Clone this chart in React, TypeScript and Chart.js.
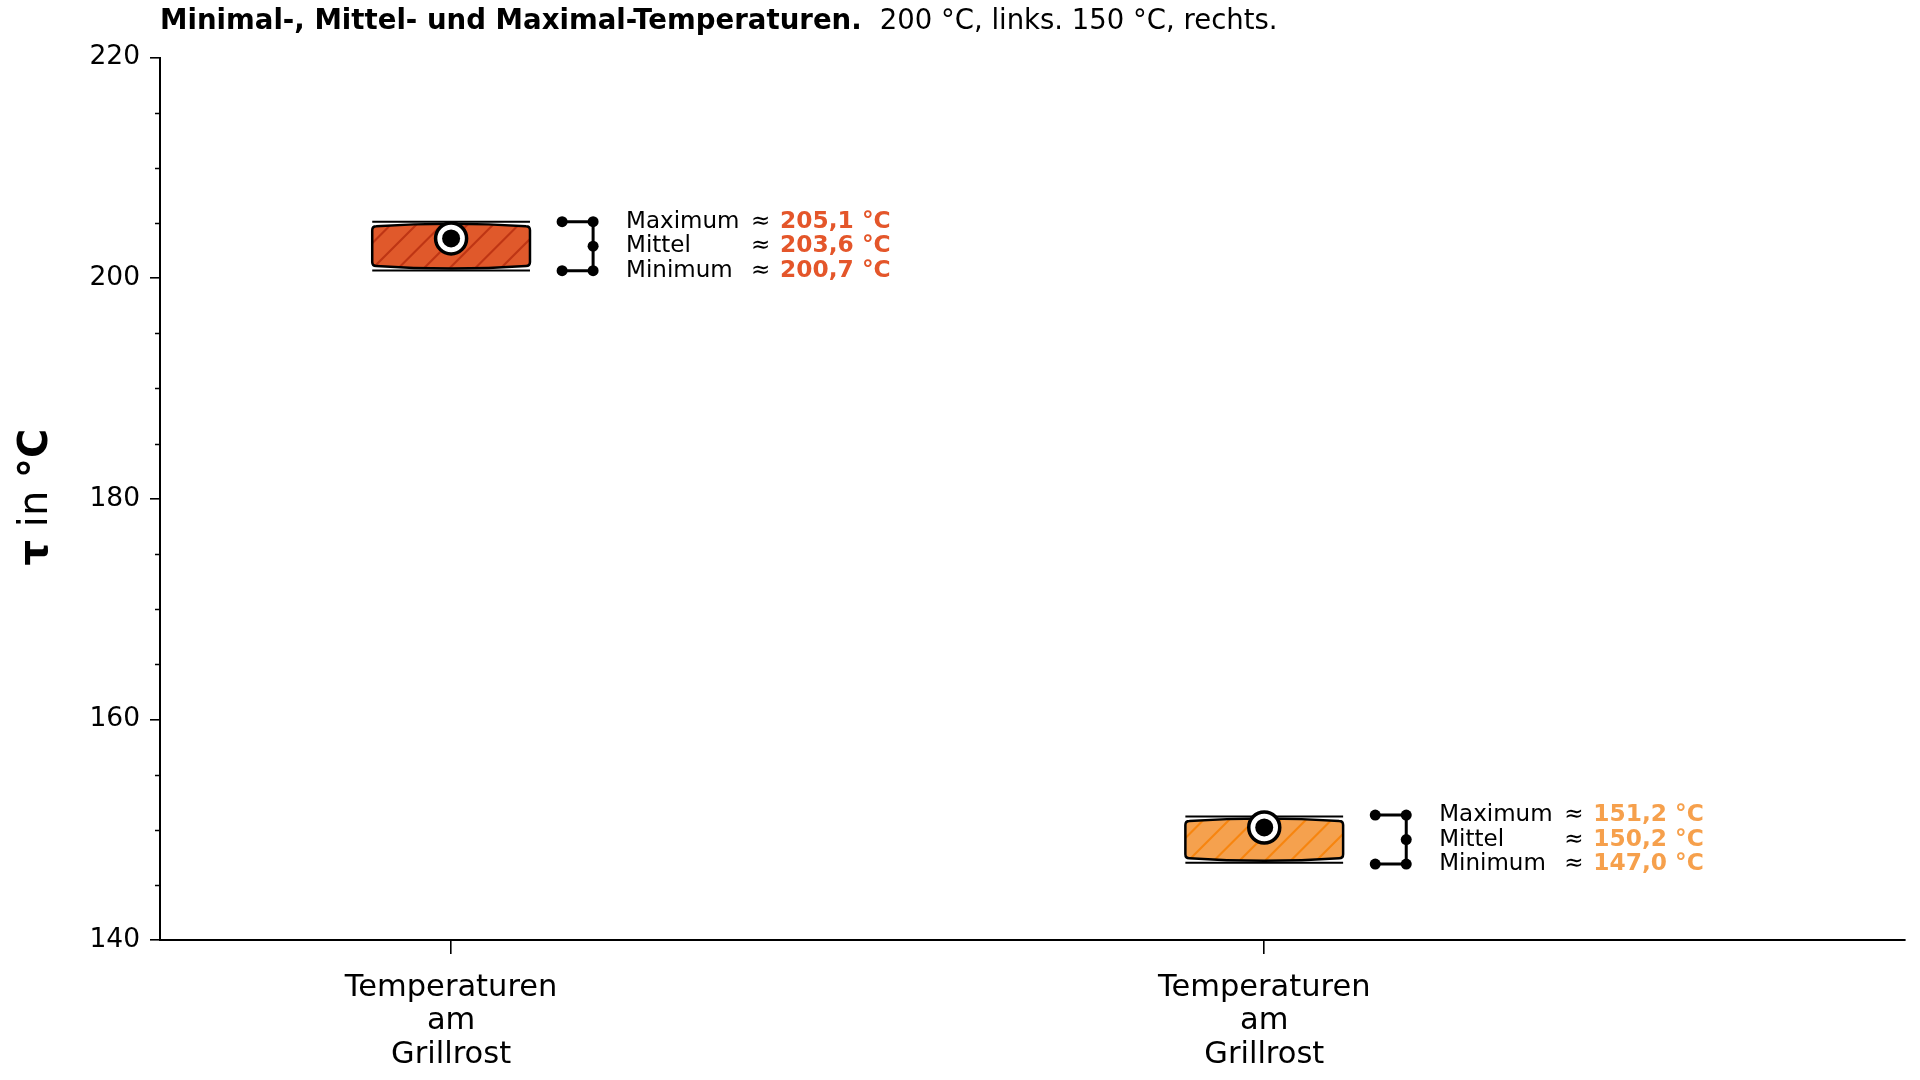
import React, { useEffect, useRef } from "react";
import { Chart, registerables } from "chart.js";

Chart.register(...registerables);

// ---------------- data ----------------
const categoryPositions = [0, 1];
const xTickLabels = [
  ["Temperaturen", "am", "Grillrost"],
  ["Temperaturen", "am", "Grillrost"],
];
const minimumValues = [200.7, 147.0];
const meanValues = [203.6, 150.2];
const maximumValues = [205.1, 151.2];
const rowLabels = ["Maximum", "Mittel", "Minimum"];
const titleBold = "Minimal-, Mittel- und Maximal-Temperaturen.";
const titleRegular = "200 °C, links. 150 °C, rechts.";
const yAxisMin = 140;
const yAxisMax = 220;
const yMajorStep = 20;
const yMinorStep = 5;

// ---------------- styles ----------------
const FONT = "'DejaVu Sans', sans-serif";
const fillColors = ["#E0592B", "#F5A14E"];
const hatchColors = ["#BE3514", "#F7850F"];
const valueColors = ["#E4562A", "#F6A04C"];
const X_MIN = -0.358;
const X_MAX = 1.788;
const BOX_HALF = 0.097;

Chart.defaults.font.family = FONT;

const fmt = (v: number) => v.toFixed(1).replace(".", ",") + " °C";

const boxPlugin = {
  id: "boxes",
  beforeDatasetsDraw(chart: any) {
    const { ctx } = chart;
    const x = chart.scales.x;
    const y = chart.scales.y;
    categoryPositions.forEach((pos, i) => {
      const L = x.getPixelForValue(pos - BOX_HALF);
      const R = x.getPixelForValue(pos + BOX_HALF);
      const yMax = y.getPixelForValue(maximumValues[i]);
      const yMin = y.getPixelForValue(minimumValues[i]);
      const top = yMax + 4.5;
      const bot = yMin - 4.5;
      const bulge = 2.5;
      const r = 4;
      const mid = (L + R) / 2;
      const p = new Path2D();
      p.moveTo(L + r, top);
      p.quadraticCurveTo(mid, top - 2 * bulge, R - r, top);
      p.quadraticCurveTo(R, top, R, top + r);
      p.lineTo(R, bot - r);
      p.quadraticCurveTo(R, bot, R - r, bot);
      p.quadraticCurveTo(mid, bot + 2 * bulge, L + r, bot);
      p.quadraticCurveTo(L, bot, L, bot - r);
      p.lineTo(L, top + r);
      p.quadraticCurveTo(L, top, L + r, top);
      p.closePath();

      ctx.save();
      ctx.fillStyle = fillColors[i];
      ctx.fill(p);
      // hatch "/"
      ctx.save();
      ctx.clip(p);
      ctx.strokeStyle = hatchColors[i];
      ctx.lineWidth = 2.1;
      ctx.beginPath();
      const sp = 25.6;
      const cMin = L + top - 20;
      const cMax = R + bot + 20;
      for (let c = Math.floor((cMin - 1) / sp) * sp + 1; c <= cMax; c += sp) {
        ctx.moveTo(c - (bot + 10), bot + 10);
        ctx.lineTo(c - (top - 10), top - 10);
      }
      ctx.stroke();
      ctx.restore();
      ctx.lineWidth = 2.5;
      ctx.strokeStyle = "#000";
      ctx.stroke(p);
      // max / min lines
      ctx.lineWidth = 2;
      ctx.beginPath();
      ctx.moveTo(L, yMax);
      ctx.lineTo(R, yMax);
      ctx.moveTo(L, yMin);
      ctx.lineTo(R, yMin);
      ctx.stroke();
      ctx.restore();
    });
  },
};

const annotationPlugin = {
  id: "annotations",
  afterDatasetsDraw(chart: any) {
    const { ctx } = chart;
    const x = chart.scales.x;
    const y = chart.scales.y;
    categoryPositions.forEach((pos, i) => {
      const cx = x.getPixelForValue(pos);
      const yMax = y.getPixelForValue(maximumValues[i]);
      const yMin = y.getPixelForValue(minimumValues[i]);
      const cy = (yMax + yMin) / 2;
      const rows = [cy - 24.5, cy, cy + 24.5];
      const x1 = cx + 111;
      const x2 = cx + 142;
      ctx.save();
      ctx.strokeStyle = "#000";
      ctx.fillStyle = "#000";
      ctx.lineWidth = 3;
      ctx.beginPath();
      ctx.moveTo(x1, rows[0]);
      ctx.lineTo(x2, rows[0]);
      ctx.lineTo(x2, rows[2]);
      ctx.lineTo(x1, rows[2]);
      ctx.stroke();
      const dots = [
        [x1, rows[0]],
        [x2, rows[0]],
        [x2, rows[1]],
        [x1, rows[2]],
        [x2, rows[2]],
      ];
      dots.forEach(([dx, dy]) => {
        ctx.beginPath();
        ctx.arc(dx, dy, 5.5, 0, Math.PI * 2);
        ctx.fill();
      });
      const vals = [maximumValues[i], meanValues[i], minimumValues[i]];
      ctx.textBaseline = "middle";
      ctx.textAlign = "left";
      rows.forEach((ry, k) => {
        ctx.font = `23px ${FONT}`;
        ctx.fillStyle = "#000";
        ctx.fillText(rowLabels[k], cx + 175, ry);
        ctx.fillText("≈", cx + 300, ry);
        ctx.font = `bold 23.3px ${FONT}`;
        ctx.fillStyle = valueColors[i];
        ctx.fillText(fmt(vals[k]), cx + 329, ry);
      });
      ctx.restore();
    });
  },
};

const textPlugin = {
  id: "texts",
  afterDraw(chart: any) {
    const { ctx } = chart;
    const y = chart.scales.y;
    const area = chart.chartArea;
    ctx.save();
    // minor ticks
    ctx.strokeStyle = "#000";
    ctx.lineWidth = 1.5;
    ctx.beginPath();
    for (let v = yAxisMin; v <= yAxisMax; v += yMinorStep) {
      if ((v - yAxisMin) % yMajorStep === 0) continue;
      const py = Math.round(y.getPixelForValue(v)) + 0.5;
      ctx.moveTo(area.left - 5, py);
      ctx.lineTo(area.left, py);
    }
    ctx.stroke();

    // title
    ctx.fillStyle = "#000";
    ctx.textBaseline = "alphabetic";
    ctx.textAlign = "left";
    ctx.font = `bold 27.6px ${FONT}`;
    ctx.fillText(titleBold, 160, 29);
    const w = ctx.measureText(titleBold).width;
    ctx.font = `27.5px ${FONT}`;
    ctx.fillText(titleRegular, 160 + w + 18, 29);

    // y-axis label (mixed weights)
    const parts: [string, string][] = [
      ["τ", "bold"],
      [" in ", "normal"],
      ["°C", "bold"],
    ];
    const size = 40;
    let total = 0;
    const widths = parts.map(([t, wgt]) => {
      ctx.font = `${wgt} ${size}px ${FONT}`;
      const m = ctx.measureText(t).width;
      total += m;
      return m;
    });
    ctx.translate(47, 497);
    ctx.rotate(-Math.PI / 2);
    let tx = -total / 2;
    parts.forEach(([t, wgt], k) => {
      ctx.font = `${wgt} ${size}px ${FONT}`;
      ctx.fillText(t, tx, 0);
      tx += widths[k];
    });
    ctx.restore();
  },
};

export default function App() {
  const ref = useRef<HTMLCanvasElement>(null);
  useEffect(() => {
    const canvas = ref.current!;
    const meanPoints = categoryPositions.map((p, i) => ({ x: p, y: meanValues[i] }));
    const chart = new Chart(canvas, {
      type: "scatter",
      data: {
        datasets: [
          {
            label: "Mittel",
            data: meanPoints,
            order: 2,
            pointRadius: 15.5,
            pointHoverRadius: 15.5,
            pointBackgroundColor: "#ffffff",
            pointBorderColor: "#000000",
            pointBorderWidth: 3.5,
          },
          {
            label: "Mittel (Kern)",
            data: meanPoints,
            order: 1,
            pointRadius: 9,
            pointHoverRadius: 9,
            pointBackgroundColor: "#000000",
            pointBorderColor: "#000000",
            pointBorderWidth: 0,
          },
        ],
      },
      options: {
        responsive: false,
        animation: false,
        events: [],
        layout: { autoPadding: false, padding: { top: 57.5, right: 15, left: 0, bottom: 0 } },
        plugins: {
          legend: { display: false },
          tooltip: { enabled: false },
          title: { display: false },
        },
        scales: {
          x: {
            type: "linear",
            min: X_MIN,
            max: X_MAX,
            afterBuildTicks: (s: any) => {
              s.ticks = categoryPositions.map((v) => ({ value: v }));
            },
            afterFit: (s: any) => {
              s.height = 140;
            },
            grid: {
              display: true,
              drawOnChartArea: false,
              drawTicks: true,
              tickLength: 14,
              color: "#000",
              lineWidth: 1.6,
            },
            border: { display: true, color: "#000", width: 2 },
            ticks: {
              autoSkip: false,
              maxRotation: 0,
              minRotation: 0,
              padding: 17,
              color: "#000",
              font: { family: FONT, size: 30.5, lineHeight: 33.5 / 30.5 },
              callback: (_v: any, i: number) => xTickLabels[i],
            },
          },
          y: {
            type: "linear",
            min: yAxisMin,
            max: yAxisMax,
            afterFit: (s: any) => {
              s.width = 160;
            },
            grid: {
              display: true,
              drawOnChartArea: false,
              drawTicks: true,
              tickLength: 10,
              color: "#000",
              lineWidth: 1.6,
            },
            border: { display: true, color: "#000", width: 2 },
            ticks: {
              stepSize: yMajorStep,
              padding: 10,
              color: "#000",
              font: { family: FONT, size: 26.5 },
            },
          },
        },
      },
      plugins: [boxPlugin, annotationPlugin, textPlugin],
    } as any);
    return () => chart.destroy();
  }, []);
  return (
    <div style={{ position: "absolute", left: 0, top: 0, width: 1920, height: 1080, background: "#fff" }}>
      <canvas ref={ref} width={1920} height={1080} style={{ display: "block" }} />
    </div>
  );
}
